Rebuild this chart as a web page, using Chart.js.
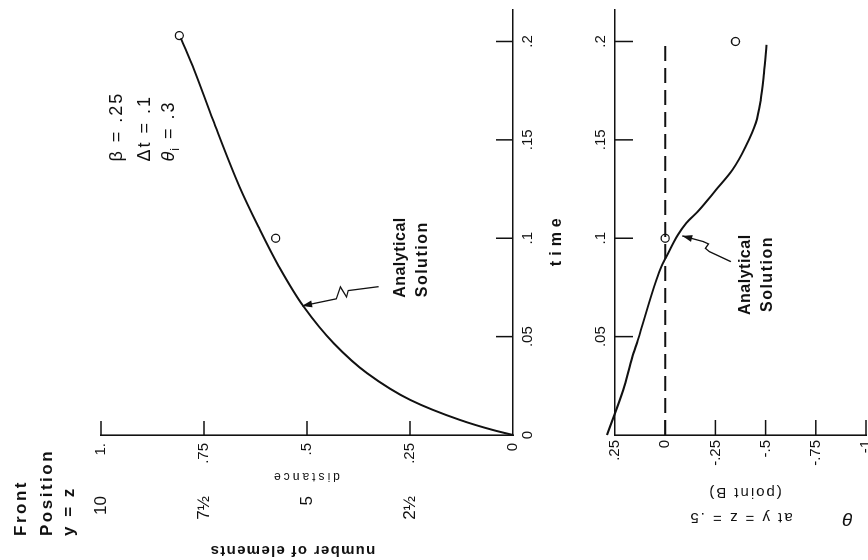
<!DOCTYPE html>
<html>
<head>
<meta charset="utf-8">
<script src="https://cdn.jsdelivr.net/npm/chart.js@4/dist/chart.umd.min.js"></script>
<style>
  html, body { margin: 0; padding: 0; background: #fff; overflow: hidden; width: 868px; height: 560px; }
  /* the figure is drawn upright, then turned a quarter turn like the scan */
  #page { position: absolute; left: 0; top: 0; width: 560px; height: 880px;
          transform-origin: 0 0; transform: translateY(560px) rotate(-90deg); }
  #topBox { position: absolute; left: 0; top: 0; width: 560px; height: 580px; }
  #botBox { position: absolute; left: 0; top: 580px; width: 560px; height: 300px; }
</style>
</head>
<body>
<div id="page">
  <div id="topBox"><canvas id="frontChart" width="560" height="580"></canvas></div>
  <div id="botBox"><canvas id="thetaChart" width="560" height="300"></canvas></div>
</div>
<script>
// front position y = z, analytical solution
var anTime = [0, 0.0025, 0.0076, 0.0178, 0.0314, 0.0466, 0.0652, 0.0856, 0.1059, 0.1263, 0.160, 0.1856, 0.2017];
var anDist = [0, 0.048, 0.128, 0.249, 0.354, 0.435, 0.508, 0.568, 0.618, 0.664, 0.728, 0.774, 0.806];
// numerical results (circles)
var numTime = [0.1, 0.203];
var numDist = [0.576, 0.81];

// theta at y = z = .5 (point B), analytical solution
var thTime = [0, 0.0229, 0.0395, 0.0483, 0.0788, 0.0856, 0.0904, 0.1017, 0.1077, 0.1144, 0.1246, 0.1348, 0.1466, 0.1585, 0.1704, 0.1839, 0.1983];
var thVal = [0.29, 0.209, 0.164, 0.136, 0.044, 0.019, -0.005, -0.063, -0.105, -0.170, -0.253, -0.335, -0.401, -0.451, -0.476, -0.492, -0.505];
var thNumTime = [0.1, 0.2];
var thNumVal = [0.0, -0.35];
// dashed reference line
var zeroTime = [0, 0.2];
var zeroVal = [0, 0];

// ticks
var timeTicks = [0, 0.05, 0.1, 0.15, 0.2];
var timeLabels = ['0', '.05', '.1', '.15', '.2'];
var lowTimeTicks = [0.05, 0.1, 0.15, 0.2];
var lowTimeLabels = ['.05', '.1', '.15', '.2'];
var distTicks = [0, 0.25, 0.5, 0.75, 1];
var distLabels = ['0', '.25', '.5', '.75', '1.'];
var elemTicks = [2.5, 5, 7.5, 10];
var elemLabels = ['2½', '5', '7½', '10'];
var thetaTicks = [0.25, 0, -0.25, -0.5, -0.75, -1];
var thetaLabels = ['.25', '0', '-.25', '-.5', '-.75', '-1'];

var FONT = '"Liberation Sans", Arial, sans-serif';
var INK = '#111';

function pts(xs, ys) {
  return xs.map(function (x, i) { return { x: x, y: ys[i] }; });
}
function tickSet(vals) {
  return function (s) { s.ticks = vals.map(function (v) { return { value: v }; }); };
}
function lab(vals, labels) {
  return function (v) { var i = vals.indexOf(v); return i < 0 ? '' : labels[i]; };
}
// text with manual letter spacing, returns drawn width
function txt(ctx, s, x, y, font, o) {
  o = o || {};
  var ls = o.ls || 0;
  ctx.save();
  ctx.font = font;
  ctx.fillStyle = INK;
  ctx.textAlign = 'left';
  ctx.textBaseline = 'middle';
  var chars = Array.from(s);
  var ws = chars.map(function (c) { return ctx.measureText(c).width; });
  var total = ws.reduce(function (a, b) { return a + b; }, 0) + ls * (chars.length - 1);
  ctx.translate(x, y);
  if (o.rot) ctx.rotate(o.rot);
  var cx = o.align === 'center' ? -total / 2 : 0;
  chars.forEach(function (c, i) { ctx.fillText(c, cx, 0); cx += ws[i] + ls; });
  ctx.restore();
  return total;
}
function leader(chart, ts, vs) {
  var ctx = chart.ctx, sx = chart.scales.x, sy = chart.scales.y;
  var p = ts.map(function (t, i) { return [sx.getPixelForValue(t), sy.getPixelForValue(vs[i])]; });
  ctx.save();
  ctx.strokeStyle = INK; ctx.fillStyle = INK; ctx.lineWidth = 1.3;
  ctx.beginPath();
  ctx.moveTo(p[0][0], p[0][1]);
  for (var i = 1; i < p.length; i++) ctx.lineTo(p[i][0], p[i][1]);
  ctx.stroke();
  var a = p[p.length - 2], b = p[p.length - 1];
  var ang = Math.atan2(b[1] - a[1], b[0] - a[0]);
  ctx.translate(b[0], b[1]); ctx.rotate(ang);
  ctx.beginPath(); ctx.moveTo(0, 0); ctx.lineTo(-10, -3.5); ctx.lineTo(-10, 3.5); ctx.closePath(); ctx.fill();
  ctx.restore();
}
function inwardTicks(xVals, xLen, xTop, yVals, yLen) {
  return {
    id: 'inwardTicks',
    afterDatasetsDraw: function (chart) {
      var ctx = chart.ctx, a = chart.chartArea;
      ctx.save();
      ctx.strokeStyle = INK; ctx.lineWidth = 1.5;
      xVals.forEach(function (v) {
        var px = chart.scales.x.getPixelForValue(v);
        ctx.beginPath();
        ctx.moveTo(px, xTop ? a.top : a.bottom);
        ctx.lineTo(px, xTop ? a.top + xLen : a.bottom - xLen);
        ctx.stroke();
      });
      yVals.forEach(function (v) {
        var py = chart.scales.y.getPixelForValue(v);
        ctx.beginPath(); ctx.moveTo(a.left, py); ctx.lineTo(a.left + yLen, py); ctx.stroke();
      });
      ctx.restore();
    }
  };
}
function axisStyle(extra) {
  var s = {
    type: 'linear',
    grid: { display: false, drawTicks: false },
    border: { color: INK, width: 1.6 },
    ticks: { color: INK, font: { family: FONT, size: 15 }, maxRotation: 0, autoSkip: false, includeBounds: false }
  };
  for (var k in extra) {
    if (k === 'ticks') { for (var j in extra.ticks) s.ticks[j] = extra.ticks[j]; }
    else s[k] = extra[k];
  }
  return s;
}

var frontLabels = {
  id: 'frontLabels',
  afterDraw: function (chart) {
    var ctx = chart.ctx, sx = chart.scales.x, sy = chart.scales.y;
    var bold = 'bold 17px ' + FONT;
    txt(ctx, 'Front', 24, 21, bold, { ls: 2.5 });
    txt(ctx, 'Position', 24, 47, bold, { ls: 2.5 });
    txt(ctx, 'y = z', 24, 69, bold, { ls: 2.5 });

    txt(ctx, 'number of elements', 10, 293, 'bold 15px ' + FONT, { align: 'center', rot: -Math.PI / 2, ls: 1.3 });
    txt(ctx, 'distance', 84, sy.getPixelForValue(0.5), '12px ' + FONT, { align: 'center', rot: -Math.PI / 2, ls: 3 });
    txt(ctx, 'time', sx.getPixelForValue(0.098), chart.chartArea.bottom + 44, 'bold 16px ' + FONT, { align: 'center', ls: 5 });

    // parameters
    var x0 = sx.getPixelForValue(0.139), f = '18px ' + FONT;
    txt(ctx, 'β = .25', x0, sy.getPixelForValue(0.961), f, { ls: 2 });
    txt(ctx, 'Δt = .1', x0, sy.getPixelForValue(0.892), f, { ls: 2 });
    var yT = sy.getPixelForValue(0.834);
    var w = txt(ctx, 'θ', x0, yT, 'italic 18px ' + FONT);
    var wi = txt(ctx, 'i', x0 + w + 1, yT + 6, '12px ' + FONT);
    txt(ctx, ' = .3', x0 + w + wi + 3, yT, f, { ls: 2 });

    // analytical solution label and pointer
    var fb = 'bold 16px ' + FONT;
    txt(ctx, 'Analytical', sx.getPixelForValue(0.0697), sy.getPixelForValue(0.274), fb, { ls: 0.5 });
    txt(ctx, 'Solution', sx.getPixelForValue(0.070), sy.getPixelForValue(0.219), fb, { ls: 1.5 });
    leader(chart, [0.0754, 0.0734, 0.0702, 0.0753, 0.0692, 0.0656], [0.326, 0.400, 0.404, 0.419, 0.429, 0.512]);
  }
};

var thetaLabelsPlugin = {
  id: 'thetaLabels',
  afterDraw: function (chart) {
    var ctx = chart.ctx, sx = chart.scales.x, sy = chart.scales.y;
    var fb = 'bold 16px ' + FONT;
    txt(ctx, 'Analytical', sx.getPixelForValue(0.061), sy.getPixelForValue(-0.398), fb, { ls: 0.5 });
    txt(ctx, 'Solution', sx.getPixelForValue(0.0625), sy.getPixelForValue(-0.512), fb, { ls: 1.5 });
    leader(chart, [0.0881, 0.0932, 0.0949, 0.0971, 0.0983, 0.1012], [-0.327, -0.220, -0.200, -0.216, -0.190, -0.085]);

    var r = -Math.PI / 2;
    txt(ctx, 'θ', 42, sy.getPixelForValue(-0.91), 'italic 19px ' + FONT, { align: 'center', rot: r });
    txt(ctx, 'at y = z = .5', 43, sy.getPixelForValue(-0.38), '15px ' + FONT, { align: 'center', rot: r, ls: 2 });
    txt(ctx, '(point B)', 68, sy.getPixelForValue(-0.40), '15px ' + FONT, { align: 'center', rot: r, ls: 2 });
  }
};

new Chart(document.getElementById('frontChart'), {
  type: 'line',
  data: {
    datasets: [
      { label: 'Analytical Solution', data: pts(anTime, anDist), borderColor: INK, borderWidth: 2,
        pointRadius: 0, cubicInterpolationMode: 'monotone', fill: false },
      { label: 'numerical', data: pts(numTime, numDist), showLine: false, pointRadius: 4,
        pointBorderColor: INK, pointBackgroundColor: '#fff', pointBorderWidth: 1.3, clip: false }
    ]
  },
  options: {
    responsive: false, animation: false, devicePixelRatio: 1,
    layout: { padding: { left: 0, right: 10, top: 101, bottom: 0 } },
    plugins: { legend: { display: false }, tooltip: { enabled: false } },
    scales: {
      x: axisStyle({ position: 'bottom', min: 0, max: 0.216,
        afterBuildTicks: tickSet(timeTicks), afterFit: function (s) { s.height = 67; },
        ticks: { callback: lab(timeTicks, timeLabels), padding: 6 } }),
      y: axisStyle({ position: 'left', min: 0, max: 1, weight: 0,
        afterBuildTicks: tickSet(distTicks), afterFit: function (s) { s.width = 52; },
        ticks: { callback: lab(distTicks, distLabels), padding: 8 } }),
      y2: axisStyle({ position: 'left', min: 0, max: 10, weight: 10,
        border: { display: false },
        afterBuildTicks: tickSet(elemTicks), afterFit: function (s) { s.width = 73; },
        ticks: { callback: lab(elemTicks, elemLabels), padding: 9, font: { family: FONT, size: 17 } } })
    }
  },
  plugins: [inwardTicks(timeTicks.slice(1), 17, false, distTicks.slice(1), 14), frontLabels]
});

new Chart(document.getElementById('thetaChart'), {
  type: 'line',
  data: {
    datasets: [
      { label: 'Analytical Solution', data: pts(thTime, thVal), borderColor: INK, borderWidth: 2,
        pointRadius: 0, cubicInterpolationMode: 'monotone', fill: false, clip: false },
      { label: 'initial', data: pts(zeroTime, zeroVal), borderColor: INK, borderWidth: 2,
        borderDash: [15, 7], pointRadius: 0, fill: false },
      { label: 'numerical', data: pts(thNumTime, thNumVal), showLine: false, pointRadius: 4,
        pointBorderColor: INK, pointBackgroundColor: '#fff', pointBorderWidth: 1.3 }
    ]
  },
  options: {
    responsive: false, animation: false, devicePixelRatio: 1,
    layout: { padding: { left: 0, right: 10, top: 0, bottom: 12 } },
    plugins: { legend: { display: false }, tooltip: { enabled: false } },
    scales: {
      x: axisStyle({ position: 'top', min: 0, max: 0.216,
        afterBuildTicks: tickSet(lowTimeTicks), afterFit: function (s) { s.height = 35; },
        ticks: { callback: lab(lowTimeTicks, lowTimeLabels), padding: 5 } }),
      y: axisStyle({ position: 'left', min: -1, max: 0.25,
        afterBuildTicks: tickSet(thetaTicks), afterFit: function (s) { s.width = 125; },
        ticks: { callback: lab(thetaTicks, thetaLabels), padding: 5 } })
    }
  },
  plugins: [inwardTicks(lowTimeTicks, 18, true, thetaTicks.slice(1), 15), thetaLabelsPlugin]
});
</script>
</body>
</html>
